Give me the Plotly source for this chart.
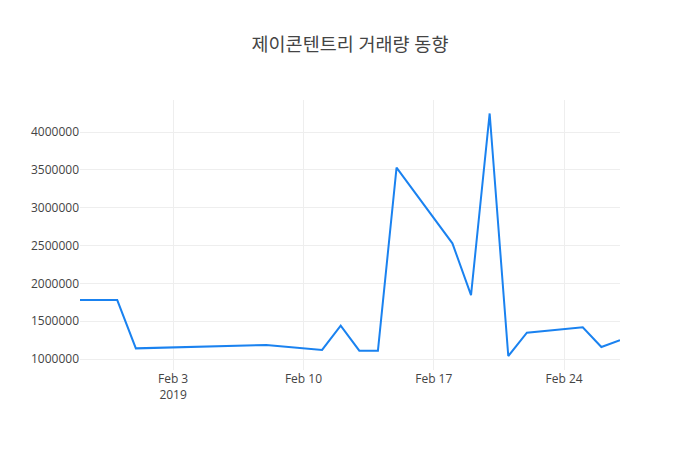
import plotly.graph_objects as go

dates = ["2019-01-29", "2019-01-30", "2019-01-31", "2019-02-01", "2019-02-08",
         "2019-02-11", "2019-02-12", "2019-02-13", "2019-02-14", "2019-02-15",
         "2019-02-18", "2019-02-19", "2019-02-20", "2019-02-21", "2019-02-22",
         "2019-02-25", "2019-02-26", "2019-02-27"]
volume = [1780000, 1780000, 1780000, 1141000, 1185000,
          1120000, 1440000, 1110000, 1110000, 3530000,
          2530000, 1846000, 4247000, 1040000, 1348000,
          1419000, 1159000, 1250000]

fig = go.Figure()
fig.add_trace(go.Scatter(x=dates, y=volume, mode="lines",
                         line=dict(color="#1a82f0", width=2)))

# page body has an 8px margin, so shift the plot area up/left to compensate
fig.update_layout(
    template="none",
    width=700, height=450,
    margin=dict(l=72, r=88, t=92, b=88),
    title=dict(text="제이콘텐트리 거래량 동향", font=dict(size=18.5),
               x=342 / 700, xanchor="center", y=1 - 37 / 450, yanchor="middle"),
    font=dict(family="Open Sans, Noto Sans CJK KR, sans-serif", color="#444", size=12),
    paper_bgcolor="white", plot_bgcolor="white",
    showlegend=False,
)
fig.update_xaxes(showgrid=True, gridcolor="#eee", zeroline=False, showline=False)
fig.update_yaxes(showgrid=True, gridcolor="#eee", zeroline=False, showline=False,
                 range=[855000, 4425000], tickformat="d")

fig.write_html("out.html")
